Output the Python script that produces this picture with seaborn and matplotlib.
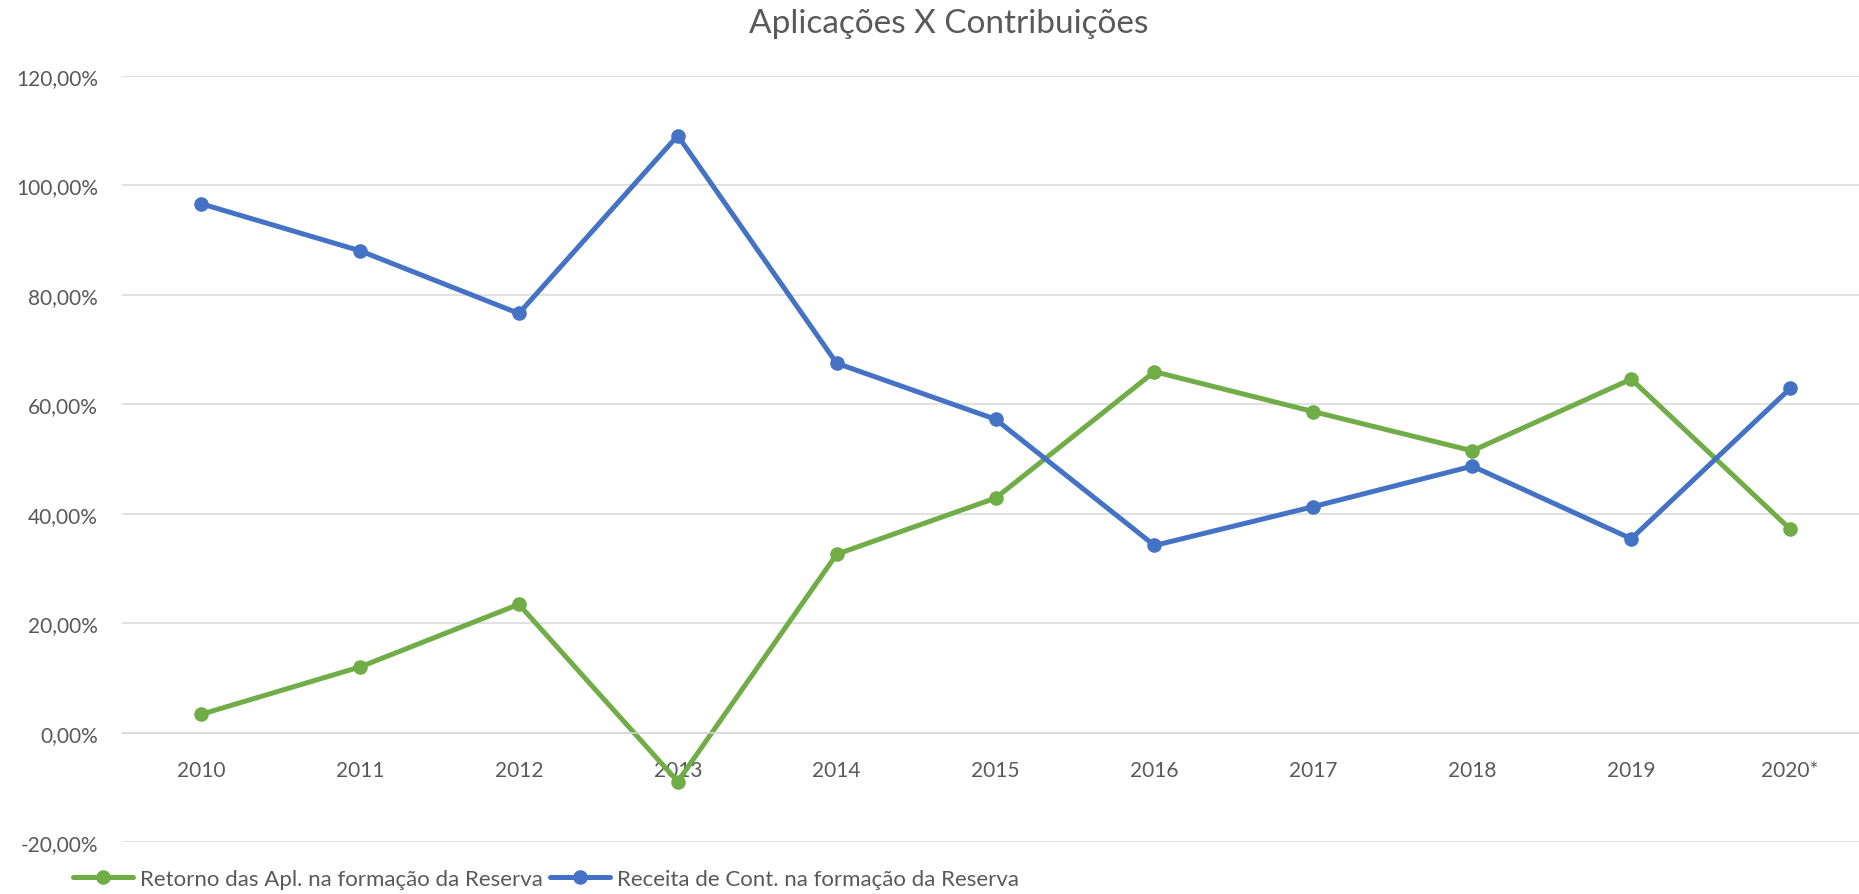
import pandas as pd
import matplotlib.pyplot as plt
import seaborn as sns
from matplotlib.ticker import FuncFormatter

anos = ['2010', '2011', '2012', '2013', '2014', '2015', '2016', '2017', '2018', '2019', '2020*']
retorno = [3.34, 12.0, 23.45, -8.93, 32.6, 42.86, 65.96, 58.66, 51.5, 64.6, 37.2]
receita = [96.66, 88.06, 76.6, 109.1, 67.5, 57.26, 34.2, 41.3, 48.7, 35.44, 62.9]
nome_retorno = 'Retorno das Apl. na formação da Reserva'
nome_receita = 'Receita de Cont. na formação da Reserva'
titulo = 'Aplicações X Contribuições'

sns.set_style('white')
plt.rcParams['font.family'] = ['Lato', 'DejaVu Sans']

cinza = '#595959'
verde = '#70AD47'
azul = '#4472C4'

dados = pd.DataFrame({'ano': anos, 'retorno': retorno, 'receita': receita})

fig = plt.figure(figsize=(18.59, 8.95), dpi=100)
ax = fig.add_axes([0.0654, 0.058, 0.9403, 0.856])

sns.lineplot(data=dados, x='ano', y='retorno', ax=ax, color=verde, linewidth=3.6,
             marker='o', markersize=10.5, markeredgewidth=0, sort=False, label=nome_retorno)
sns.lineplot(data=dados, x='ano', y='receita', ax=ax, color=azul, linewidth=3.6,
             marker='o', markersize=10.5, markeredgewidth=0, sort=False, label=nome_receita)

ax.set_xlim(-0.5, len(anos) - 0.5)
ax.set_ylim(-20, 120)
ax.set_yticks(range(-20, 121, 20))
ax.yaxis.set_major_formatter(FuncFormatter(lambda v, p: f'{v:.2f}%'.replace('.', ',')))
ax.grid(axis='y', color='#D9D9D9', linewidth=1.1)
ax.set_axisbelow(True)
for s in ['top', 'right', 'left']:
    ax.spines[s].set_visible(False)
ax.spines['bottom'].set_position(('data', 0))
ax.spines['bottom'].set_color('#D9D9D9')
ax.spines['bottom'].set_linewidth(1.1)
ax.tick_params(axis='y', length=0, pad=17, labelsize=15, labelcolor=cinza)
ax.tick_params(axis='x', length=0, pad=20, labelsize=15, labelcolor=cinza)
ax.set_xlabel('')
ax.set_ylabel('')

fig.text(0.5105, 0.9735, titulo, ha='center', va='center', fontsize=24, color=cinza)

handles, labels = ax.get_legend_handles_labels()
ax.get_legend().remove()
fig.legend(handles, labels, loc='center left', bbox_to_anchor=(0.0395, 0.017), ncol=2,
           frameon=False, fontsize=16, labelcolor=cinza, handlelength=2.7,
           handletextpad=0.31, columnspacing=0.3, borderpad=0, borderaxespad=0)

fig.savefig('out.png', dpi=100)
